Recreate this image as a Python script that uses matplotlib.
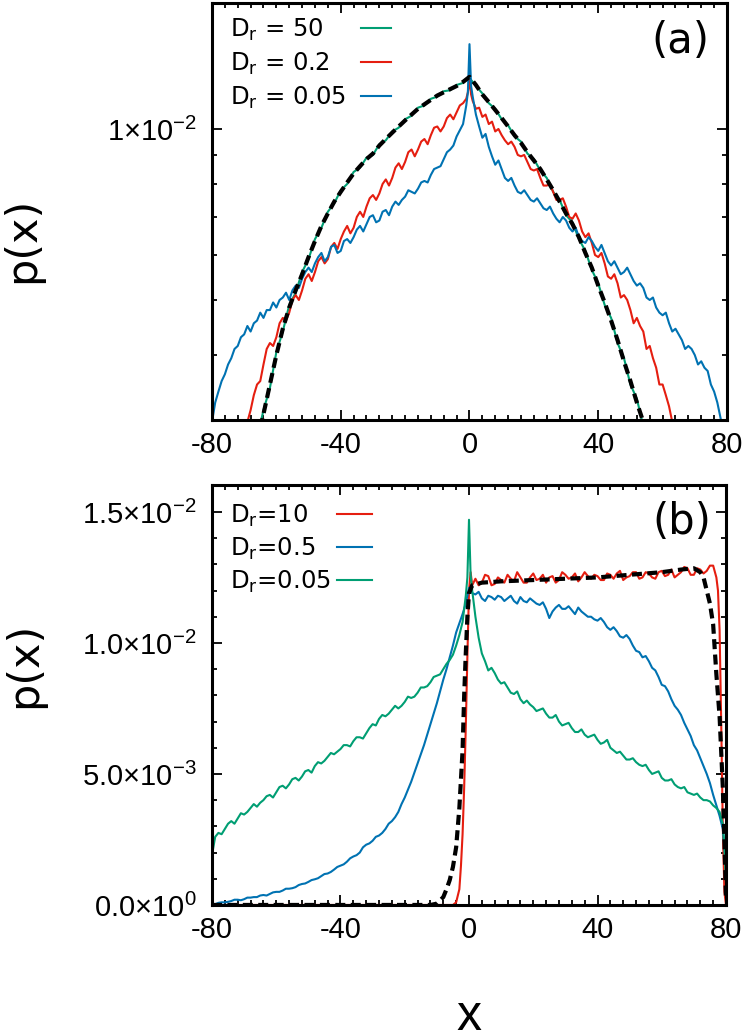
import matplotlib
matplotlib.use('Agg')
import matplotlib.pyplot as plt
from matplotlib.ticker import MultipleLocator, LogLocator, NullFormatter
from matplotlib.font_manager import FontProperties

plt.rcParams['font.family'] = ['DejaVu Sans']
plt.rcParams['mathtext.fontset'] = 'custom'
plt.rcParams['mathtext.rm'] = 'Liberation Sans'
plt.rcParams['mathtext.it'] = 'Liberation Sans:italic'
plt.rcParams['mathtext.bf'] = 'Liberation Sans:bold'

# ---------------- panel (a), p(x) in units of 1e-3 ----------------
xA_green = [-66, -64, -62, -60, -58, -56, -54, -52, -50, -48, -46, -44, -42, -40, -38, -36,
            -34, -32, -30, -28, -26, -24, -22, -20, -18, -16, -14, -12, -10, -8, -6, -4, -2,
            0, 2, 4, 6, 8, 10, 12, 14, 16, 18, 20, 22, 24, 26, 28, 30, 32, 34, 36, 38, 40,
            42, 44, 46, 48, 50, 52, 54, 56]
pA_theory = [2.8, 3.15, 3.55, 4.0, 4.45, 4.85, 5.2, 5.55, 5.95, 6.35, 6.75, 7.1, 7.45, 7.75, 8.05, 8.35,
             8.6, 8.85, 9.05, 9.35, 9.6, 9.85, 10.1, 10.35, 10.6, 10.85, 11.05, 11.25, 11.45, 11.6, 11.75, 11.9, 12.1,
             12.35, 11.95, 11.5, 11.15, 10.8, 10.45, 10.1, 9.75, 9.45, 9.1, 8.8, 8.5, 8.15, 7.8, 7.45, 7.1, 6.8, 6.45, 6.05, 5.7, 5.3,
             4.95, 4.6, 4.25, 3.9, 3.6, 3.3, 3.05, 2.8]
pA_green = [2.85, 3.2, 3.5, 4.05, 4.4, 4.9, 5.15, 5.6, 5.9, 6.4, 6.7, 7.15, 7.4, 7.8, 8.0, 8.4,
            8.55, 8.9, 9.0, 9.4, 9.55, 9.9, 10.05, 10.4, 10.55, 10.9, 11.0, 11.3, 11.4, 11.65, 11.7, 11.95, 12.05,
            12.3, 11.9, 11.55, 11.1, 10.85, 10.4, 10.15, 9.7, 9.5, 9.05, 8.85, 8.45, 8.2, 7.75, 7.5, 7.05, 6.85, 6.4, 6.1, 5.65, 5.35,
            4.9, 4.65, 4.2, 3.95, 3.55, 3.35, 3.0, 2.8]

xA_red = list(range(-70, 0)) + [-0.5, 0, 0.5] + list(range(1, 67))
pA_red = [2.9, 3.05, 3.2, 3.4, 3.55, 3.6, 3.85, 4.1, 4.2, 4.15,
          4.3, 4.55, 4.65, 4.6, 4.75, 5.0, 5.1, 5.0, 5.2, 5.45,
          5.55, 5.4, 5.6, 5.85, 5.95, 5.8, 5.9, 6.2, 6.3, 6.15,
          6.4, 6.6, 6.75, 6.55, 6.7, 7.0, 7.15, 7.0, 7.3, 7.55,
          7.65, 7.5, 7.7, 8.0, 8.15, 7.95, 8.2, 8.55, 8.7, 8.5,
          8.75, 9.1, 9.2, 8.95, 9.2, 9.5, 9.6, 9.4, 9.75, 10.05,
          10.1, 9.9, 10.1, 10.45, 10.6, 10.4, 10.7, 11.0, 11.1, 11.3,
          11.6, 12.2, 11.5,
          11.2, 10.85, 10.9, 10.5, 10.6, 10.2, 10.3, 9.9, 10.0, 9.75,
          9.55, 9.4, 9.5, 9.3, 9.0, 8.95, 9.0, 8.75, 8.5, 8.45,
          8.5, 8.2, 7.95, 7.95, 8.0, 7.75, 7.5, 7.5, 7.55, 7.3,
          7.0, 6.95, 7.1, 6.9, 6.6, 6.45, 6.55, 6.3, 6.0, 5.95,
          6.05, 5.8, 5.5, 5.45, 5.55, 5.35, 5.05, 5.1, 5.0, 4.8,
          4.55, 4.65, 4.5, 4.4, 4.1, 4.15, 3.95, 3.8, 3.55, 3.55,
          3.4, 3.25, 3.05, 3.05, 2.9, 2.8]

xA_blue = list(range(-80, 0)) + [-0.5, 0, 0.5] + list(range(1, 80))
pA_blue = [3.05, 3.3, 3.45, 3.6, 3.7, 3.85, 3.95, 4.1, 4.15, 4.3,
           4.35, 4.5, 4.4, 4.55, 4.6, 4.75, 4.65, 4.8, 4.8, 4.95,
           4.85, 5.0, 5.05, 5.15, 5.0, 5.2, 5.3, 5.25, 5.45, 5.6,
           5.7, 5.6, 5.8, 5.95, 6.05, 5.85, 5.95, 6.2, 6.25, 6.05,
           6.1, 6.35, 6.4, 6.3, 6.45, 6.65, 6.75, 6.6, 6.8, 7.0,
           7.05, 6.85, 6.9, 7.15, 7.2, 7.05, 7.3, 7.45, 7.35, 7.5,
           7.6, 7.8, 7.75, 7.7, 7.85, 8.05, 8.1, 8.05, 8.3, 8.5,
           8.55, 8.6, 8.85, 9.1, 9.2, 9.35, 9.7, 9.95, 10.2, 11.0,
           11.6, 14.1, 11.9,
           11.4, 10.6, 10.1, 9.65, 9.8, 9.3, 8.95, 8.65, 8.8, 8.5,
           8.2, 8.1, 8.2, 7.95, 7.75, 7.7, 7.8, 7.65, 7.5, 7.45,
           7.55, 7.4, 7.25, 7.2, 7.3, 7.1, 6.95, 6.85, 7.0, 6.9,
           6.7, 6.6, 6.7, 6.45, 6.35, 6.3, 6.45, 6.35, 6.2, 6.1,
           6.25, 6.05, 5.85, 5.75, 5.85, 5.7, 5.55, 5.6, 5.7, 5.55,
           5.4, 5.3, 5.35, 5.25, 5.05, 5.0, 5.05, 4.85, 4.75, 4.7,
           4.75, 4.55, 4.4, 4.45, 4.35, 4.25, 4.1, 4.15, 4.1, 4.0,
           3.85, 3.9, 3.8, 3.75, 3.55, 3.45, 3.3, 3.1, 2.9]

# ---------------- panel (b), p(x) in units of 1e-3 ----------------
xB_green = list(range(-80, 0)) + [-0.5, 0, 0.5] + list(range(1, 80)) + [79.5, 80]
pB_green = [1.9, 2.6, 2.75, 2.7, 2.9, 3.1, 3.2, 3.1, 3.3, 3.5,
            3.45, 3.55, 3.7, 3.85, 3.75, 3.9, 4.0, 4.15, 4.2, 4.1,
            4.3, 4.5, 4.55, 4.45, 4.6, 4.8, 4.85, 4.75, 4.9, 5.1,
            5.15, 5.05, 5.3, 5.45, 5.4, 5.5, 5.65, 5.8, 5.75, 5.85,
            5.95, 6.1, 6.1, 6.05, 6.25, 6.4, 6.4, 6.35, 6.55, 6.75,
            6.9, 6.85, 7.1, 7.25, 7.2, 7.3, 7.45, 7.6, 7.5, 7.6,
            7.75, 7.95, 7.9, 7.95, 8.1, 8.3, 8.3, 8.35, 8.5, 8.7,
            8.75, 8.8, 9.0, 9.2, 9.35, 9.55, 9.9, 10.3, 10.8, 11.8,
            12.5, 14.7, 12.6,
            12.0, 11.0, 10.2, 9.6, 9.3, 8.95, 9.05, 8.85, 8.6, 8.45,
            8.5, 8.3, 8.1, 8.05, 8.15, 7.85, 7.7, 7.8, 7.65, 7.55,
            7.4, 7.45, 7.5, 7.3, 7.15, 7.15, 7.25, 7.0, 6.85, 6.9,
            6.95, 6.75, 6.6, 6.6, 6.7, 6.5, 6.4, 6.45, 6.5, 6.3,
            6.15, 6.2, 6.3, 6.0, 5.9, 5.8, 5.85, 5.7, 5.55, 5.55,
            5.6, 5.45, 5.35, 5.3, 5.35, 5.15, 5.0, 5.05, 5.1, 4.85,
            4.75, 4.75, 4.8, 4.6, 4.5, 4.45, 4.5, 4.3, 4.25, 4.2,
            4.25, 4.1, 4.0, 4.0, 3.95, 3.8, 3.7, 3.55, 3.1,
            2.2, 0.8]

xB_blue = list(range(-80, 81))
pB_blue = [0.05, 0.03, 0.08, 0.1, 0.1, 0.12, 0.15, 0.2, 0.2, 0.18,
           0.22, 0.28, 0.28, 0.3, 0.3, 0.36, 0.38, 0.36, 0.42, 0.48,
           0.5, 0.5, 0.55, 0.62, 0.62, 0.64, 0.68, 0.76, 0.8, 0.82,
           0.88, 0.95, 0.98, 1.02, 1.1, 1.18, 1.2, 1.26, 1.35, 1.45,
           1.5, 1.55, 1.65, 1.78, 1.85, 1.9, 2.0, 2.2, 2.3, 2.35,
           2.45, 2.6, 2.65, 2.75, 2.9, 3.1, 3.2, 3.35, 3.55, 3.85,
           4.1, 4.4, 4.7, 5.05, 5.4, 5.75, 6.1, 6.5, 6.9, 7.3,
           7.7, 8.15, 8.6, 9.0, 9.45, 9.9, 10.4, 10.75, 11.1, 11.5,
           12.1, 11.9, 11.85, 11.95, 11.7, 11.6, 11.8, 11.75, 11.65, 11.8,
           11.75, 11.6, 11.7, 11.8, 11.6, 11.5, 11.75, 11.6, 11.55, 11.7,
           11.6, 11.5, 11.45, 11.55, 11.3, 10.95, 11.2, 11.35, 11.45, 11.3,
           11.3, 11.4, 11.25, 11.1, 11.35, 11.2, 11.1, 11.0, 11.0, 10.9,
           10.85, 10.95, 10.8, 10.6, 10.5, 10.6, 10.45, 10.25, 10.2, 10.3,
           10.15, 9.9, 9.7, 9.65, 9.45, 9.5, 9.3, 9.05, 8.95, 8.7,
           8.4, 8.35, 8.15, 7.85, 7.6, 7.45, 7.25, 6.95, 6.7, 6.45,
           6.1, 5.9, 5.6, 5.3, 5.0, 4.65, 4.2, 3.8, 3.4, 2.9,
           1.5]

xB_red = [-80, -40, -10, -5, -4, -3, -2.5, -2, -1.5, -1, -0.5, 0, 0.5, 1] + list(range(2, 77)) + \
         [77, 77.5, 78, 78.5, 79, 79.5, 80]
pB_red = [0.0, 0.0, 0.0, 0.0, 0.1, 0.6, 1.5, 2.7, 4.5, 6.8, 9.5, 12.0, 12.7, 12.2,
          12.45, 12.2, 12.3, 12.6, 12.55, 12.2, 12.25, 12.5, 12.4, 12.3,
          12.6, 12.45, 12.35, 12.7, 12.5, 12.3, 12.3, 12.5, 12.65, 12.4,
          12.45, 12.6, 12.3, 12.5, 12.55, 12.3, 12.4, 12.7, 12.6, 12.45,
          12.5, 12.65, 12.35, 12.5, 12.7, 12.55, 12.45, 12.6, 12.55, 12.4,
          12.4, 12.65, 12.6, 12.45, 12.65, 12.75, 12.4, 12.5, 12.55, 12.7,
          12.7, 12.45, 12.5, 12.7, 12.65, 12.5, 12.45, 12.7, 12.75, 12.55,
          12.6, 12.8, 12.5, 12.6, 12.7, 12.9, 12.85, 12.6, 12.6, 12.85,
          12.8, 12.65, 12.75, 12.95, 12.95,
          12.5, 12.0, 10.5, 7.0, 3.0, 0.5, 0.0]

xB_theory = [-80, -12, -10, -8, -7, -6, -5, -4, -3, -2, -1.5, -1, -0.5, 0, 1, 4, 10, 20, 30, 40,
             50, 60, 66, 70, 72, 73, 74, 75, 76, 77, 78, 79, 79.5, 80]
pB_theory = [0.0, 0.0, 0.05, 0.3, 0.6, 0.95, 1.45, 2.2, 3.7, 5.9, 8.0, 9.6, 11.0, 11.9, 12.2, 12.3, 12.35, 12.4, 12.45, 12.5,
             12.6, 12.7, 12.8, 12.85, 12.7, 12.5, 12.0, 11.5, 10.7, 8.8, 7.2, 4.5, 2.5, 0.2]

xTicks = [-80, -40, 0, 40, 80]
xTickLabels = ['-80', '-40', '0', '40', '80']
yTicksA = [1e-2]
yTickLabelsA = ['1×10$^{-2}$']
yTicksB = [0.0, 5e-3, 1e-2, 1.5e-2]
yTickLabelsB = ['0.0×10$^{0}$', '5.0×10$^{-3}$', '1.0×10$^{-2}$', '1.5×10$^{-2}$']

labelsA = ['D$_\\mathrm{r}$ = 50', 'D$_\\mathrm{r}$ = 0.2', 'D$_\\mathrm{r}$ = 0.05']
labelsB = ['D$_\\mathrm{r}$=10', 'D$_\\mathrm{r}$=0.5', 'D$_\\mathrm{r}$=0.05']

GREEN = '#009e73'
RED = '#e51e10'
BLUE = '#0072b2'
NARROW = ['Liberation Sans Narrow', 'Liberation Sans']


def e3(vals):
    return [v * 1e-3 for v in vals]


def style_axis(ax):
    for s in ax.spines.values():
        s.set_linewidth(2.2)
    ax.tick_params(which='both', direction='in', top=True, right=True, width=1.3)
    ax.tick_params(which='major', length=7)
    ax.tick_params(which='minor', length=3.5)
    ax.tick_params(axis='x', which='major', pad=8, labelsize=21, labelfontfamily=NARROW)
    ax.tick_params(axis='y', which='major', pad=11, labelsize=21, labelfontfamily='Liberation Sans')
    ax.set_xlim(-80, 80)
    ax.set_xticks(xTicks, xTickLabels)
    ax.xaxis.set_minor_locator(MultipleLocator(4))


def left_justify(leg, width):
    # text on the left, sample line pushed to a fixed right edge (gnuplot key look)
    for col in leg._legend_handle_box.get_children():
        for item in col.get_children():
            item.mode = 'expand'
            item.width = width


fig = plt.figure(figsize=(7.48, 10.30), dpi=100)
axA = fig.add_axes([0.2834, 0.5922, 0.6885, 0.4049])
axB = fig.add_axes([0.2834, 0.1214, 0.6872, 0.4078])

legProp = FontProperties(family='DejaVu Sans', size=17.5, math_fontfamily='dejavusans')

# panel (a)
axA.set_yscale('log')
axA.plot(xA_green, e3(pA_green), color=GREEN, lw=1.5, label=labelsA[0])
axA.plot(xA_red, e3(pA_red), color=RED, lw=1.5, label=labelsA[1])
axA.plot(xA_blue, e3(pA_blue), color=BLUE, lw=1.5, label=labelsA[2])
axA.plot(xA_green, e3(pA_theory), color='black', lw=3, dashes=(2.4, 1.3))
style_axis(axA)
axA.set_ylim(3.074e-3, 1.666e-2)
axA.set_yticks(yTicksA, yTickLabelsA)
axA.yaxis.set_minor_locator(LogLocator(base=10, subs=[2, 3, 4, 5, 6, 7, 8, 9]))
axA.yaxis.set_minor_formatter(NullFormatter())
axA.set_ylabel('p(x)', fontsize=31)
axA.yaxis.set_label_coords(-0.328, 0.432)
axA.text(0.965, 0.909, '(a)', transform=axA.transAxes, ha='right', va='center', fontsize=30)
legA = axA.legend(loc='upper left', bbox_to_anchor=(0.035, 0.968), frameon=False, markerfirst=False,
                  prop=legProp, handlelength=1.25, handletextpad=0.6, labelspacing=0.33,
                  borderpad=0, borderaxespad=0)
left_justify(legA, 161)

# panel (b)
axB.plot(xB_red, e3(pB_red), color=RED, lw=1.5, label=labelsB[0])
axB.plot(xB_blue, e3(pB_blue), color=BLUE, lw=1.5, label=labelsB[1])
axB.plot(xB_green, e3(pB_green), color=GREEN, lw=1.5, label=labelsB[2])
axB.plot(xB_theory, e3(pB_theory), color='black', lw=3, dashes=(2.4, 1.3))
style_axis(axB)
axB.set_ylim(0, 0.01603)
axB.set_yticks(yTicksB, yTickLabelsB)
axB.get_yticklabels()[0].set_fontfamily(NARROW)
axB.yaxis.set_minor_locator(MultipleLocator(1e-3))
axB.set_ylabel('p(x)', fontsize=31)
axB.yaxis.set_label_coords(-0.324, 0.571)
axB.set_xlabel('x', fontsize=36, fontfamily=NARROW)
axB.xaxis.set_label_coords(0.5, -0.213)
axB.text(0.971, 0.912, '(b)', transform=axB.transAxes, ha='right', va='center', fontsize=30)
legB = axB.legend(loc='upper left', bbox_to_anchor=(0.035, 0.957), frameon=False, markerfirst=False,
                  prop=legProp, handlelength=1.45, handletextpad=0.4, labelspacing=0.28,
                  borderpad=0, borderaxespad=0)
left_justify(legB, 142)

fig.savefig('out.png', dpi=100)
